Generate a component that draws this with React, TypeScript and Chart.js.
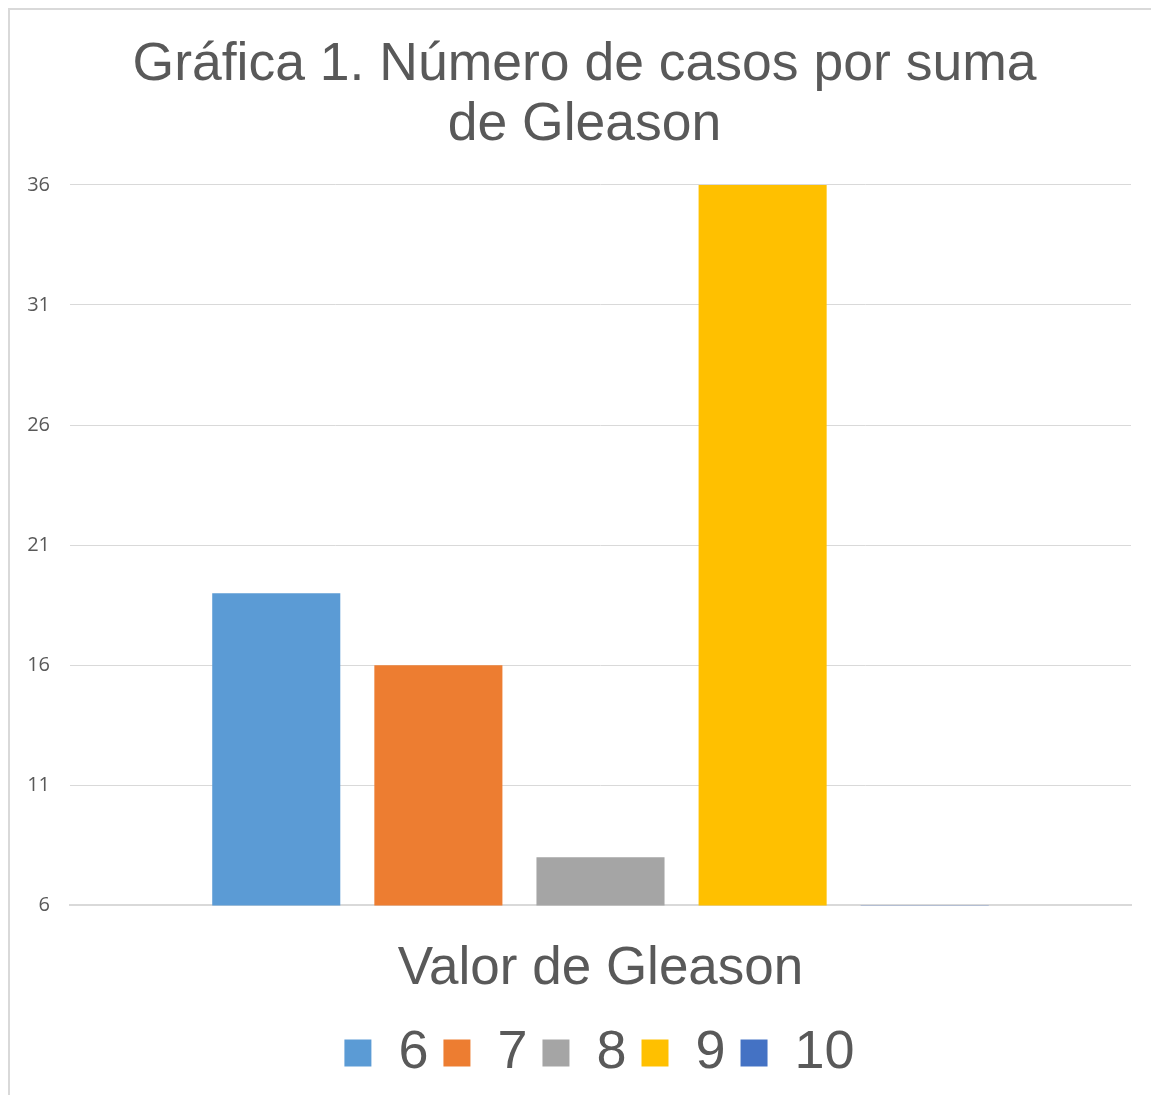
import React, { useEffect, useRef } from "react";
import { Chart, registerables } from "chart.js";

Chart.register(...registerables);

const categories: string[] = [""];
const seriesNames: string[] = ["6", "7", "8", "9", "10"];
const seriesValues: number[] = [19, 16, 8, 36, 6];
const seriesColors: string[] = ["#5B9BD5", "#ED7D31", "#A5A5A5", "#FFC000", "#4472C4"];
const titleLines: string[] = ["Gráfica 1. Número de casos por suma", "de Gleason"];
const xAxisTitle = "Valor de Gleason";
const yMin = 6;
const yMax = 36;
const yStep = 5;

const TEXT = "#595959";
const GRID = "#D9D9D9";

const borderPlugin = {
  id: "outerBorder",
  beforeDraw(chart: any) {
    const ctx = chart.ctx;
    ctx.save();
    ctx.fillStyle = "#FFFFFF";
    ctx.fillRect(0, 0, chart.width, chart.height);
    ctx.strokeStyle = "#D9D9D9";
    ctx.lineWidth = 2;
    ctx.beginPath();
    ctx.moveTo(1, chart.height);
    ctx.lineTo(1, 1);
    ctx.lineTo(chart.width, 1);
    ctx.stroke();
    ctx.restore();
  },
};

const boxShift = {
  id: "boxShift",
  afterLayout(chart: any) {
    const lg = chart.legend;
    if (lg) {
      lg.left += 30;
      lg.right += 30;
    }
    const tb = chart.titleBlock;
    if (tb) {
      tb.left += 15;
      tb.right += 15;
    }
  },
};

export default function App() {
  const ref = useRef<HTMLCanvasElement | null>(null);
  useEffect(() => {
    if (!ref.current) return;
    const chart = new Chart(ref.current, {
      type: "bar",
      data: {
        labels: categories,
        datasets: seriesNames.map((name, i) => ({
          label: name,
          data: [seriesValues[i]],
          backgroundColor: seriesColors[i],
          borderWidth: 0,
          categoryPercentage: 0.764,
          barPercentage: 0.79,
        })),
      },
      options: {
        animation: false,
        responsive: false,
        maintainAspectRatio: false,
        layout: { padding: { left: 0, right: 20, top: 0, bottom: 5 } },
        plugins: {
          title: {
            display: true,
            text: titleLines,
            color: TEXT,
            font: { family: "'Liberation Sans', Arial, sans-serif", size: 53.5, weight: "normal", lineHeight: 1.13 },
            padding: { top: 27, bottom: 29 },
          },
          legend: {
            display: true,
            position: "bottom",
            labels: {
              color: TEXT,
              font: { family: "'Liberation Sans', Arial, sans-serif", size: 54 },
              boxWidth: 27,
              boxHeight: 27,
              padding: 15,
            },
          },
          tooltip: { enabled: false },
        },
        scales: {
          x: {
            ticks: { display: false },
            grid: { display: false },
            border: { display: true, color: GRID, width: 2 },
            title: {
              display: true,
              text: xAxisTitle,
              color: TEXT,
              font: { family: "'Liberation Sans', Arial, sans-serif", size: 53 },
              padding: { top: 24, bottom: 10 },
            },
          },
          y: {
            min: yMin,
            max: yMax,
            ticks: {
              stepSize: yStep,
              color: TEXT,
              font: { family: "'Open Sans', sans-serif", size: 20 },
              padding: 20,
            },
            grid: { color: GRID, lineWidth: 1, drawTicks: false },
            border: { display: false },
            afterFit: (s: any) => {
              s.width = 62;
            },
          },
        },
      },
      plugins: [borderPlugin, boxShift],
    });
    return () => chart.destroy();
  }, []);
  return (
    <div style={{ position: "fixed", left: 8, top: 8, width: 1143, height: 1087, overflow: "hidden" }}>
      <canvas ref={ref} width={1143} height={1087} style={{ display: "block" }} />
    </div>
  );
}
